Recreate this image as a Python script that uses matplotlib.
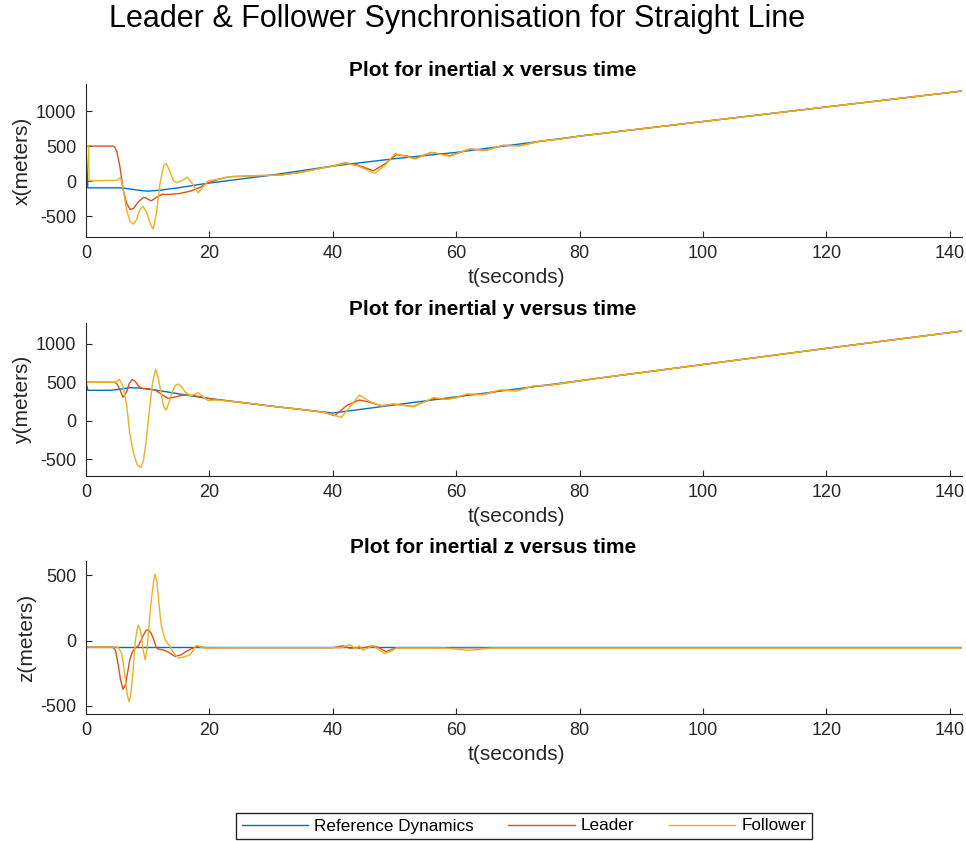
import matplotlib
matplotlib.use("Agg")
import matplotlib.pyplot as plt

plt.rcParams['font.family'] = ['Liberation Sans', 'DejaVu Sans']
plt.rcParams['axes.unicode_minus'] = False

# colours (MATLAB default order)
c_ref = '#0072BD'
c_lead = '#D95319'
c_fol = '#EDB120'

# ---- inertial x ----
ref_x_t = [0, 0.3, 5.5, 7.0, 8.5, 10, 12, 15, 19.5, 30, 40, 50, 60, 80, 100, 120, 142]
ref_x = [500, -96, -96, -110, -130, -143, -130, -95, -33, 85, 215, 320, 410, 643, 851, 1059, 1286]

lead_x_t = [0, 4.4, 4.7, 5.0, 5.5, 6.05, 6.6, 7.15, 7.7, 8.5, 9.3, 9.7, 10.1, 10.6, 11.4, 12.3,
            13.5, 15.2, 16.9, 18.6, 19.5, 21.6, 23.2, 27, 31.4, 34.7, 37.9, 40, 42, 44, 46.6,
            48.5, 50.3, 52, 53.3, 54.7, 56, 57.5, 59, 60.6, 62.2, 64.9, 67.6, 70.3, 73.6,
            76.8, 80, 100, 120, 142]
lead_x = [500, 500, 480, 419, 205, -129, -319, -405, -390, -295, -233, -240, -262, -281, -233, -190,
          -190, -176, -143, -86, -33, 29, 62, 76, 86, 124, 181, 215, 262, 230, 147,
          250, 376, 360, 324, 370, 410, 385, 362, 410, 457, 443, 510, 505, 571,
          600, 643, 851, 1059, 1286]

fol_x_t = [0, 0.4, 0.5, 5.0, 5.6, 6.05, 6.6, 7.15, 7.7, 8.2, 8.7, 9.2, 9.8, 10.4, 10.9, 11.4,
           12.0, 12.6, 13.0, 13.5, 14.2, 14.7, 15.5, 16.4, 17.2, 18.2, 19.0, 19.8, 21.6, 23.2,
           27, 31.4, 34.7, 37.9, 40, 42, 44, 46.8, 48.5, 50.1, 52, 53.3, 54.7, 56, 57.5, 59,
           60.6, 62.2, 64.9, 67.6, 70.3, 73.6, 76.8, 80, 100, 120, 142]
fol_x = [500, 500, 4, 10, 52, -129, -414, -581, -614, -548, -414, -357, -438, -605, -686, -462,
         -33, 229, 252, 157, 4, -24, 4, 57, -33, -167, -80, 4, 29, 62,
         76, 86, 124, 181, 215, 255, 220, 110, 230, 395, 350, 315, 365, 410, 380, 355,
         410, 457, 440, 510, 505, 571, 600, 643, 851, 1059, 1286]

# ---- inertial y ----
ref_y_t = [0, 0.3, 4.1, 5.5, 7.1, 8.7, 12, 15.2, 20.1, 30, 40, 60, 80, 100, 120, 142]
ref_y = [500, 395, 395, 410, 429, 425, 390, 347, 286, 190, 100, 310, 520, 730, 940, 1165]

lead_y_t = [0, 4.7, 5.0, 5.4, 6.0, 6.6, 7.0, 7.5, 8.0, 8.5, 9.0, 10.0, 11.2, 12.3, 13.3, 14.5,
            15.8, 17.0, 17.9, 19.0, 20.1, 25, 30, 35, 38.5, 40.3, 42.3, 44.3, 46, 47.9, 49.8,
            51.5, 53.0, 54.7, 56.3, 58.4, 60, 61.7, 64.4, 67.1, 69.8, 72.5, 75.2, 77.9, 82.8,
            100, 120, 142]
lead_y = [500, 500, 480, 420, 303, 380, 480, 537, 510, 450, 420, 415, 398, 340, 290, 310,
          334, 330, 320, 305, 286, 240, 190, 145, 110, 66, 200, 269, 240, 195, 215,
          200, 185, 240, 290, 280, 300, 340, 340, 395, 390, 448, 462, 492, 550,
          730, 940, 1165]

fol_y_t = [0, 4.8, 5.4, 6.0, 6.6, 7.1, 7.7, 8.3, 8.9, 9.3, 9.7, 10.1, 10.4, 10.8, 11.3, 11.7,
           12.2, 12.6, 13.0, 13.5, 14.0, 14.5, 15.0, 15.5, 16.0, 16.9, 17.5, 18.2, 19.0, 19.8,
           21, 25, 30, 35, 38.5, 41.4, 43, 44.3, 46, 47.9, 49.8, 51.5, 53.0, 54.7, 56.3, 58.4,
           60, 61.7, 64.4, 67.1, 69.8, 72.5, 75.2, 77.9, 82.8, 100, 120, 142]
fol_y = [500, 500, 537, 450, 200, -164, -420, -570, -610, -520, -300, 0, 226, 500, 667, 560,
         350, 180, 139, 250, 380, 460, 476, 440, 380, 321, 340, 364, 310, 260,
         270, 240, 190, 145, 110, 44, 200, 334, 250, 191, 217, 200, 182, 240, 299, 277,
         300, 347, 342, 399, 390, 451, 464, 494, 550, 730, 940, 1165]

# ---- inertial z ----
ref_z_t = [0, 142]
ref_z = [-50, -50]

lead_z_t = [0, 4.4, 4.8, 5.2, 5.6, 6.0, 6.4, 6.8, 7.1, 7.5, 7.9, 8.5, 9.3, 9.7, 10.1, 10.5,
            10.9, 11.3, 11.6, 12.4, 13.1, 14.4, 15.4, 16.3, 17.9, 19.5, 25, 40, 41.7, 42.8,
            43.6, 44.5, 46.5, 47.5, 48.6, 50.3, 55, 60, 142]
lead_z = [-50, -50, -80, -180, -300, -373, -340, -230, -147, -90, -61, -40, 40, 75, 85, 60,
          20, -40, -64, -70, -82, -121, -110, -82, -44, -55, -55, -55, -40, -60,
          -55, -60, -40, -55, -85, -55, -55, -55, -55]

fol_z_t = [0, 5.2, 5.8, 6.4, 6.7, 7.0, 7.3, 7.6, 8.0, 8.3, 8.5, 8.8, 9.0, 9.3, 9.6, 9.9, 10.2,
           10.5, 10.7, 11.0, 11.2, 11.5, 11.7, 12.0, 12.2, 12.8, 13.6, 14.3, 15.0, 16.0, 16.9,
           17.9, 19.0, 25, 41.5, 42.8, 43.7, 44.3, 44.9, 46.5, 47.5, 48.4, 49.5, 50.3, 58, 62,
           66, 142]
fol_z = [-50, -50, -100, -300, -420, -468, -400, -250, 0, 90, 116, 80, 30, -80, -147, -60, 100,
         270, 350, 470, 509, 450, 350, 200, 120, 8, -46, -100, -134, -125, -108,
         -37, -57, -55, -55, -31, -64, -40, -75, -40, -70, -100, -80, -57, -57, -75,
         -57, -57]

panels = [
    ('x', ref_x_t, ref_x, lead_x_t, lead_x, fol_x_t, fol_x, (-800, 1385), [-500, 0, 500, 1000]),
    ('y', ref_y_t, ref_y, lead_y_t, lead_y, fol_y_t, fol_y, (-718, 1270), [-500, 0, 500, 1000]),
    ('z', ref_z_t, ref_z, lead_z_t, lead_z, fol_z_t, fol_z, (-563, 610), [-500, 0, 500]),
]
bottoms = [0.718, 0.434, 0.151]

fig = plt.figure(figsize=(9.66, 8.41), dpi=100)
dark = '#262626'

for (name, rt, rv, lt, lv, ft, fv, ylim, yticks), b in zip(panels, bottoms):
    ax = fig.add_axes([0.089, b, 0.907, 0.182])
    ax.plot(rt, rv, color=c_ref, lw=1.0, label='Reference Dynamics')
    ax.plot(lt, lv, color=c_lead, lw=1.0, label='Leader')
    ax.plot(ft, fv, color=c_fol, lw=1.0, label='Follower')
    ax.set_xlim(0, 142)
    ax.set_ylim(*ylim)
    ax.set_xticks(range(0, 141, 20))
    ax.set_yticks(yticks)
    for s in ['top', 'right']:
        ax.spines[s].set_visible(False)
    for s in ['left', 'bottom']:
        ax.spines[s].set_color(dark)
        ax.spines[s].set_linewidth(0.8)
    ax.tick_params(direction='in', length=4, width=0.8, colors=dark, labelsize=13)
    ax.tick_params(axis='y', pad=7)
    ax.tick_params(axis='x', pad=6)
    ax.set_xlabel('t(seconds)', fontsize=15, color=dark, labelpad=4, x=0.491)
    ax.set_ylabel(name + '(meters)', fontsize=15, color=dark, labelpad=3)
    ax.set_title('Plot for inertial ' + name + ' versus time', fontsize=15, fontweight='bold',
                 pad=6, x=0.4646)

handles, labels = ax.get_legend_handles_labels()
fig.legend(handles, labels, loc='center', bbox_to_anchor=(524 / 966, 1 - 826 / 841), ncol=3,
           fontsize=12.3, handlelength=3.9, handletextpad=0.35, columnspacing=2.0,
           fancybox=False, framealpha=1, edgecolor=dark, borderpad=0.35)

fig.text(457 / 966, 0.978, 'Leader & Follower Synchronisation for Straight Line',
         ha='center', va='center', fontsize=22)

fig.savefig('out.png', dpi=100)
